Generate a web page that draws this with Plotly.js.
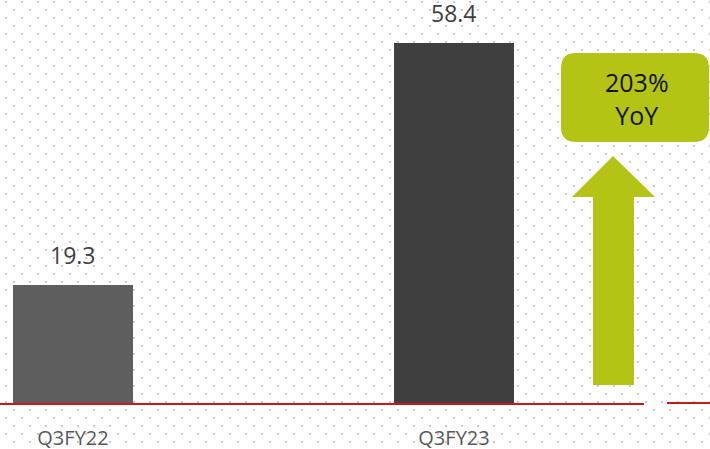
<!DOCTYPE html>
<html>
<head>
<meta charset="utf-8">
<script src="https://cdn.plot.ly/plotly-3.0.1.min.js"></script>
<style>
  html, body { margin: 0; padding: 0; }
  body {
    width: 710px; height: 449px; overflow: hidden;
    background-color: #ffffff;
    background-image: url("data:image/svg+xml,%3Csvg xmlns='http://www.w3.org/2000/svg' width='16' height='16'%3E%3Crect x='5' y='1' width='2' height='2' fill='%23cacaca'/%3E%3Crect x='13' y='9' width='2' height='2' fill='%23cacaca'/%3E%3C/svg%3E");
  }
  #chart { width: 710px; height: 449px; }
</style>
</head>
<body>
<div id="chart"></div>
<script>
// ---- data ----
const categories = ["Q3FY22", "Q3FY23"];
const values = [19.3, 58.4];
const valueLabels = ["19.3", "58.4"];
const growthLabel = ["203%", "YoY"];

// ---- styling ----
const barColors = ["#5e5e5e", "#404040"];
const W = 710, H = 449, BASE = 404;           // baseline pixel row
const pxPerUnit = 361 / 58.4;
const FONT = "Open Sans, DejaVu Sans, sans-serif";

// pixel -> paper helpers (margins l=r=t=0, b=H-BASE)
const px = x => x / W;
const py = y => (BASE - y) / BASE;
function path(points) {
  return points.map((p, i) => (i ? "L" : "M") + px(p[0]) + "," + py(p[1])).join(" ") + " Z";
}
function roundRect(l, t, r, b, rad) {
  const P = (x, y) => px(x) + "," + py(y);
  return "M" + P(l + rad, t) + " L" + P(r - rad, t) + " Q" + P(r, t) + " " + P(r, t + rad) +
         " L" + P(r, b - rad) + " Q" + P(r, b) + " " + P(r - rad, b) +
         " L" + P(l + rad, b) + " Q" + P(l, b) + " " + P(l, b - rad) +
         " L" + P(l, t + rad) + " Q" + P(l, t) + " " + P(l + rad, t) + " Z";
}

const trace = {
  type: "bar",
  x: categories,
  y: values,
  marker: { color: barColors, line: { width: 0 } },
  width: 120 / 381,
  hoverinfo: "skip"
};

const centerPx = 73, stepPx = 381;
const xRange = [-centerPx / stepPx, (W - centerPx) / stepPx];
const yRange = [0, BASE / pxPerUnit];

const annotations = categories.map((c, i) => ({
  x: c, y: values[i], xref: "x", yref: "y",
  text: valueLabels[i], showarrow: false,
  yanchor: "bottom", yshift: 12,
  font: { family: FONT, size: 23, color: "#404040" }
}));
annotations.push({
  x: px(637), y: py(98), xref: "paper", yref: "paper",
  text: growthLabel.join("<br>"), showarrow: false,
  xanchor: "center", yanchor: "middle",
  font: { family: FONT, size: 25, color: "#111111" }
});

const shapes = [
  { type: "path", xref: "paper", yref: "paper", layer: "above",
    path: roundRect(561, 53, 709, 142, 15),
    fillcolor: "#b4c414", line: { width: 0 } },
  { type: "path", xref: "paper", yref: "paper", layer: "above",
    path: path([[613, 156], [655, 197], [634, 197], [634, 385], [593, 385], [593, 197], [572, 197]]),
    fillcolor: "#b4c414", line: { width: 0 } },
  { type: "line", xref: "paper", yref: "paper", layer: "above",
    x0: 0, x1: px(644), y0: py(404), y1: py(404),
    line: { color: "#c81a1a", width: 2 } },
  { type: "line", xref: "paper", yref: "paper", layer: "above",
    x0: px(667), x1: 1, y0: py(403), y1: py(403),
    line: { color: "#c81a1a", width: 2 } }
];

const layout = {
  width: W, height: H,
  margin: { l: 0, r: 0, t: 0, b: H - BASE, pad: 0 },
  paper_bgcolor: "rgba(0,0,0,0)",
  plot_bgcolor: "rgba(0,0,0,0)",
  showlegend: false,
  bargap: 0,
  xaxis: {
    type: "category", range: xRange, fixedrange: true,
    showgrid: false, zeroline: false, showline: false,
    ticks: "outside", ticklen: 16, tickcolor: "rgba(0,0,0,0)",
    tickfont: { family: FONT, size: 20, color: "#595959" }
  },
  yaxis: {
    range: yRange, fixedrange: true, visible: false,
    showgrid: false, zeroline: false
  },
  annotations: annotations,
  shapes: shapes
};

Plotly.newPlot("chart", [trace], layout, { displayModeBar: false, staticPlot: true });
</script>
</body>
</html>
